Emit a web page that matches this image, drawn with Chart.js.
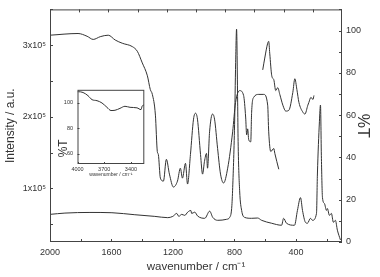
<!DOCTYPE html>
<html>
<head>
<meta charset="utf-8">
<script src="https://cdn.jsdelivr.net/npm/chart.js@4.4.1/dist/chart.umd.min.js"></script>
<style>
  body { margin: 0; background: #fff; }
  #wrap { position: relative; width: 380px; height: 277px; }
  #main { position: absolute; left: 0; top: 0; }
  #inset { position: absolute; left: 50px; top: 82px; }
</style>
</head>
<body>
<div id="wrap">
  <canvas id="main" width="380" height="277"></canvas>
  <canvas id="inset" width="100" height="100"></canvas>
</div>
<script>
// Raman spectrum: left axis, bottom wavenumber axis
const ramanShift = [2000, 1903, 1740, 1597, 1448, 1318, 1234, 1201, 1175, 1162, 1143, 1123, 1104, 1084, 1078, 1058, 1039, 993, 961, 941, 909, 851, 831, 818, 812, 799, 792, 786, 779, 776, 766, 753, 734, 688, 649, 623, 558, 493, 480, 461, 409, 390, 370, 357, 338, 325, 305, 292, 266, 260, 247, 240, 234, 227, 214, 201, 195, 182, 169, 156, 143, 130, 110];
const ramanIntensity = [63600, 65400, 66300, 65900, 63100, 60800, 59000, 60800, 64900, 60800, 63600, 62200, 66700, 69100, 64900, 66700, 61200, 58100, 68100, 59400, 55300, 56700, 59400, 71800, 96600, 188900, 275600, 322400, 220500, 165500, 96600, 69100, 59400, 58100, 58500, 55300, 51200, 48400, 58100, 51200, 48400, 69100, 87000, 69100, 52500, 51200, 58100, 55300, 64900, 120000, 193000, 216400, 142000, 87000, 78700, 69100, 71800, 62200, 64900, 52500, 55300, 41500, 27800];

// IR transmittance (mid IR): right axis, top wavenumber axis
const irWavenumber = [2000, 1808, 1746, 1704, 1656, 1601, 1553, 1505, 1436, 1402, 1368, 1333, 1313, 1299, 1278, 1265, 1258, 1244, 1223, 1203, 1182, 1155, 1127, 1107, 1093, 1072, 1058, 1038, 1017, 1003, 990, 969, 955, 942, 928, 921, 907, 887, 873, 852, 832, 811, 783, 749, 729, 701, 674, 660, 653, 646, 639, 625, 619, 605, 570, 536, 509, 502, 488, 467, 460, 433];
const irTransmittance = [97.8, 98.6, 97.3, 95.8, 97.1, 97.8, 95.5, 94.0, 92.4, 90.2, 84.7, 78.6, 72.1, 69.8, 60.0, 42.8, 41.4, 30.2, 28.8, 39.1, 32.1, 26.0, 28.8, 34.9, 30.2, 37.2, 27.4, 41.4, 58.1, 60.9, 58.1, 41.4, 32.1, 38.1, 41.9, 34.9, 52.1, 60.5, 58.1, 44.2, 32.1, 27.9, 34.9, 52.1, 66.0, 71.6, 69.3, 59.1, 50.7, 53.5, 48.4, 47.4, 61.4, 68.4, 69.8, 69.8, 64.7, 52.1, 42.8, 44.2, 41.9, 34.4];

// IR transmittance (far IR part)
const farIrWavenumber = [543, 529, 509, 502, 495, 481, 467, 454, 440, 426, 405, 385, 364, 337, 323, 309, 295, 268, 254, 234, 227, 213, 199, 192];
const farIrTransmittance = [81.4, 87.0, 94.0, 94.9, 89.3, 78.6, 76.7, 71.6, 73.0, 69.8, 64.7, 61.9, 62.3, 70.7, 77.2, 72.1, 66.0, 61.4, 60.5, 64.7, 66.0, 68.4, 67.4, 69.3];

// inset: high wavenumber IR region
const insetWavenumber = [4000, 3991, 3938, 3882, 3837, 3781, 3725, 3669, 3624, 3579, 3523, 3467, 3410, 3332, 3287, 3275, 3253];
const insetTransmittance = [108.5, 108.5, 107.9, 105.4, 102.3, 101.5, 99.7, 96.3, 93.8, 94.0, 95.5, 97.1, 96.3, 95.9, 94.5, 97.1, 98.2];

// ticks
const ramanTicks = [2000, 1800, 1600, 1400, 1200, 1000, 800, 600, 400, 200];
const ramanTickLabels = [2000, 1600, 1200, 800, 400];
const irTicks = [1800, 1600, 1400, 1200, 1000, 800, 600, 400, 200];
const intensityTicks = [50000, 100000, 150000, 200000, 250000, 300000, 350000];
const intensityTickLabels = { 100000: "1x10⁵", 200000: "2x10⁵", 300000: "3x10⁵" };
const percentTicks = [0, 10, 20, 30, 40, 50, 60, 70, 80, 90, 100, 110];
const percentTickLabels = [0, 20, 40, 60, 80, 100];
const insetXTicks = [4000, 3700, 3400];
const insetYTicks = [60, 80, 100];

const INK = "#333";
const FONT = "'Liberation Sans', Arial, sans-serif";

const pts = (xs, ys) => xs.map((x, i) => ({ x: x, y: ys[i] }));
const setTicks = (arr) => (s) => { s.ticks = arr.map(v => ({ value: v })); };

// box around the plot + inward tick marks
const frame = {
  id: "frame",
  afterDraw(chart, args, opts) {
    const ctx = chart.ctx, a = chart.chartArea;
    ctx.save();
    ctx.strokeStyle = opts.color;
    ctx.lineWidth = 1;
    ctx.strokeRect(a.left + 0.5, a.top + 0.5, a.right - a.left - 1, a.bottom - a.top - 1);
    opts.marks.forEach(m => {
      const s = chart.scales[m.id];
      s.ticks.forEach(t => {
        const p = Math.round(s.getPixelForValue(t.value)) + 0.5;
        ctx.beginPath();
        if (m.side === "bottom") { ctx.moveTo(p, a.bottom); ctx.lineTo(p, a.bottom - m.len); }
        if (m.side === "top") { ctx.moveTo(p, a.top); ctx.lineTo(p, a.top + m.len); }
        if (m.side === "left") { ctx.moveTo(a.left, p); ctx.lineTo(a.left + m.len, p); }
        if (m.side === "right") { ctx.moveTo(a.right, p); ctx.lineTo(a.right - m.len, p); }
        ctx.stroke();
      });
    });
    ctx.restore();
  }
};

const lineStyle = { borderColor: INK, borderWidth: 1, pointRadius: 0, cubicInterpolationMode: "monotone", fill: false };

new Chart(document.getElementById("main"), {
  type: "line",
  data: {
    datasets: [
      Object.assign({ label: "Raman", data: pts(ramanShift, ramanIntensity), xAxisID: "x", yAxisID: "y" }, lineStyle),
      Object.assign({ label: "IR", data: pts(irWavenumber, irTransmittance), xAxisID: "x2", yAxisID: "y2" }, lineStyle),
      Object.assign({ label: "Far IR", data: pts(farIrWavenumber, farIrTransmittance), xAxisID: "x2", yAxisID: "y2" }, lineStyle)
    ]
  },
  options: {
    responsive: false,
    animation: false,
    devicePixelRatio: 1,
    layout: { padding: 0 },
    plugins: {
      legend: { display: false },
      tooltip: { enabled: false },
      frame: {
        color: "#444",
        marks: [
          { id: "x", side: "bottom", len: 3 },
          { id: "x2", side: "top", len: 3 },
          { id: "y", side: "left", len: 3 },
          { id: "y2", side: "right", len: 3 }
        ]
      }
    },
    scales: {
      x: {
        type: "linear", position: "bottom", reverse: true, min: 100, max: 2000,
        afterBuildTicks: setTicks(ramanTicks),
        afterFit: s => { s.height = 35; },
        grid: { display: false, drawTicks: false }, border: { display: false },
        ticks: { autoSkip: false, maxRotation: 0, padding: 5, color: INK, font: { family: FONT, size: 9 },
          callback: v => ramanTickLabels.includes(v) ? String(v) : "" },
        title: { display: true, text: "wavenumber / cm⁻¹", color: INK, font: { family: FONT, size: 11.5 }, padding: { top: 0, bottom: 3 } }
      },
      x2: {
        type: "linear", position: "top", reverse: true, min: 0, max: 2000,
        afterBuildTicks: setTicks(irTicks),
        afterFit: s => { s.height = 6; },
        grid: { display: false, drawTicks: false }, border: { display: false },
        ticks: { display: false }
      },
      y: {
        type: "linear", position: "left", min: 25000, max: 350000,
        afterBuildTicks: setTicks(intensityTicks),
        afterFit: s => { s.width = 50; },
        grid: { display: false, drawTicks: false }, border: { display: false },
        ticks: { autoSkip: false, padding: 4, color: INK, font: { family: FONT, size: 9 },
          callback: v => intensityTickLabels[v] || "" },
        title: { display: true, text: "Intensity / a.u.", color: INK, font: { family: FONT, size: 12 }, padding: { top: 3, bottom: 0 } }
      },
      y2: {
        type: "linear", position: "right", min: 0, max: 110,
        afterBuildTicks: setTicks(percentTicks),
        afterFit: s => { s.width = 38; },
        grid: { display: false, drawTicks: false }, border: { display: false },
        ticks: { autoSkip: false, padding: 4, color: INK, font: { family: FONT, size: 9 },
          callback: v => percentTickLabels.includes(v) ? String(v) : "" },
        title: { display: true, text: "%T", color: INK, font: { family: FONT, size: 16 }, padding: { top: 8, bottom: 0 } }
      }
    }
  },
  plugins: [frame]
});

new Chart(document.getElementById("inset"), {
  type: "line",
  data: {
    datasets: [
      Object.assign({ label: "IR high", data: pts(insetWavenumber, insetTransmittance) }, lineStyle)
    ]
  },
  options: {
    responsive: false,
    animation: false,
    devicePixelRatio: 1,
    layout: { padding: { top: 7, right: 5.7, left: 0, bottom: 0 } },
    plugins: {
      legend: { display: false },
      tooltip: { enabled: false },
      frame: {
        color: "#444",
        marks: [
          { id: "x", side: "bottom", len: 2 },
          { id: "y", side: "left", len: 2 }
        ]
      }
    },
    scales: {
      x: {
        type: "linear", position: "bottom", reverse: true, min: 3250, max: 4000,
        afterBuildTicks: setTicks(insetXTicks),
        afterFit: s => { s.height = 18; },
        grid: { display: false, drawTicks: false }, border: { display: false },
        ticks: { autoSkip: false, maxRotation: 0, padding: 2.5, color: INK, font: { family: FONT, size: 5.5 },
          callback: v => String(v) },
        title: { display: true, text: "wavenumber / cm⁻¹", color: INK, font: { family: FONT, size: 5 }, padding: { top: 0, bottom: 4 } }
      },
      y: {
        type: "linear", position: "left", min: 52, max: 110,
        afterBuildTicks: setTicks(insetYTicks),
        afterFit: s => { s.width = 27.5; },
        grid: { display: false, drawTicks: false }, border: { display: false },
        ticks: { autoSkip: false, padding: 4.5, color: INK, font: { family: FONT, size: 5.5 },
          callback: v => String(v) },
        title: { display: true, text: "  %T", align: "start", color: INK, font: { family: FONT, size: 12 }, padding: { top: 6.3, bottom: 0 } }
      }
    }
  },
  plugins: [frame]
});
</script>
</body>
</html>
